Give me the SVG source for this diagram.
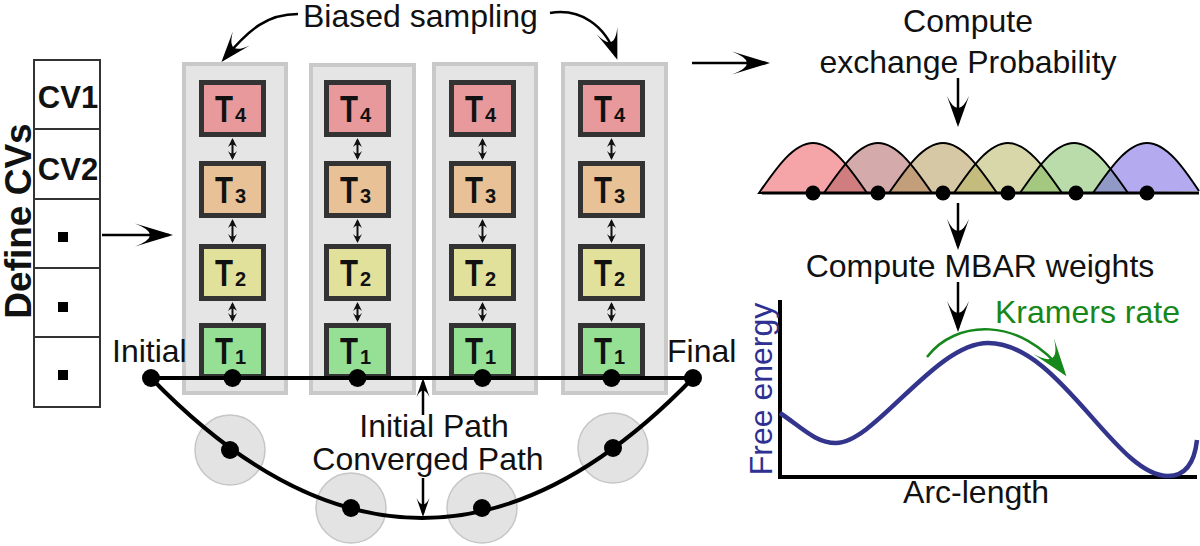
<svg xmlns="http://www.w3.org/2000/svg" xmlns:xlink="http://www.w3.org/1999/xlink" width="1200" height="546" viewBox="0 0 1200 546">
<style>
.t{font-family:"Liberation Sans",Arial,sans-serif;font-size:32px;fill:#111}
.b{font-family:"Liberation Sans",Arial,sans-serif;font-weight:bold;fill:#111}
.panel{fill:#e5e5e5;stroke:#c9c9c9;stroke-width:4}
.box{stroke:#333;stroke-width:5}
.t4{fill:#e8999b}.t3{fill:#e8c197}.t2{fill:#e1e19b}.t1{fill:#95e095}
.cell{fill:#fff;stroke:#333;stroke-width:2}
.ln{fill:none;stroke:#000;stroke-width:2.5}
.path{fill:none;stroke:#000;stroke-width:4}
.halo{fill:#e3e3e3;stroke:#c6c6c6;stroke-width:1.5}
.bell{stroke:none;fill-opacity:0.5}
.bells{fill:none;stroke:#000;stroke-width:2}
</style>
<defs>
<marker id="big" markerUnits="userSpaceOnUse" markerWidth="1" markerHeight="1" refX="0" refY="0" orient="auto" overflow="visible"><path d="M4,0 L-34,-11.5 Q-4,0 -34,11.5 Z" fill="#000"/></marker>
<marker id="med" markerUnits="userSpaceOnUse" markerWidth="1" markerHeight="1" refX="0" refY="0" orient="auto" overflow="visible"><path d="M4,0 L-27,-11 Q-3,0 -27,11 Z" fill="#000"/></marker>
<marker id="sm" markerUnits="userSpaceOnUse" markerWidth="1" markerHeight="1" refX="0" refY="0" orient="auto" overflow="visible"><path d="M4,0 L-15,-6.5 Q-2,0 -15,6.5 Z" fill="#000"/></marker>
<marker id="tiny" markerUnits="userSpaceOnUse" markerWidth="1" markerHeight="1" refX="0" refY="0" orient="auto-start-reverse" overflow="visible"><path d="M2,0 L-7,-4.5 Q-2,0 -7,4.5 Z" fill="#111"/></marker>
<marker id="grn" markerUnits="userSpaceOnUse" markerWidth="1" markerHeight="1" refX="0" refY="0" orient="auto" overflow="visible"><path d="M4,0 L-34,-13 Q-4,0 -34,13 Z" fill="#16871a"/></marker>
<path id="b1" d="M759,193 C775,170 793,143 813,143 C833,143 851,170 867,193 Z"/>
<path id="b2" d="M824,193 C840,170 858,143 878,143 C898,143 916,170 932,193 Z"/>
<path id="b3" d="M889,193 C905,170 923,143 943,143 C963,143 981,170 997,193 Z"/>
<path id="b4" d="M954,193 C970,170 988,143 1008,143 C1028,143 1046,170 1062,193 Z"/>
<path id="b5" d="M1020,193 C1036,170 1054,143 1074,143 C1094,143 1112,170 1128,193 Z"/>
<path id="b6" d="M1093,193 C1109,170 1127,143 1147,143 C1167,143 1185,170 1199,191"/>
</defs>
<rect width="1200" height="546" fill="#fff"/>

<g id="define-cvs">
<text class="b" font-size="37" text-anchor="middle" transform="translate(31,221) rotate(-90)">Define CVs</text>
<rect class="cell" x="34" y="60" width="66" height="69"/>
<rect class="cell" x="34" y="129" width="66" height="70"/>
<rect class="cell" x="34" y="199" width="66" height="69"/>
<rect class="cell" x="34" y="268" width="66" height="69"/>
<rect class="cell" x="34" y="337" width="66" height="70"/>
<text class="b" font-size="31" x="68" y="108" text-anchor="middle">CV1</text>
<text class="b" font-size="31" x="68" y="180" text-anchor="middle">CV2</text>
<rect x="58" y="232" width="10" height="10" fill="#000"/>
<rect x="58" y="302" width="10" height="10" fill="#000"/>
<rect x="58" y="370" width="10" height="10" fill="#000"/>
</g>

<g id="panels">
<rect class="panel" x="184" y="64" width="102" height="329"/>
<rect class="panel" x="311" y="65" width="103" height="328"/>
<rect class="panel" x="434" y="64" width="102" height="329"/>
<rect class="panel" x="563" y="64" width="103" height="329"/>
</g>

<g id="halos">
<circle class="halo" cx="230" cy="450" r="35"/>
<circle class="halo" cx="351" cy="508" r="35"/>
<circle class="halo" cx="482" cy="508" r="35"/>
<circle class="halo" cx="613" cy="448" r="35"/>
</g>

<g id="replica-1">
<rect class="box t4" x="201.5" y="82.5" width="62" height="52"/><text class="b" font-size="36" x="215" y="122" textLength="18" lengthAdjust="spacingAndGlyphs">T</text><text class="b" font-size="20" x="235" y="122">4</text>
<rect class="box t3" x="201.5" y="163.5" width="62" height="52"/><text class="b" font-size="36" x="215" y="203" textLength="18" lengthAdjust="spacingAndGlyphs">T</text><text class="b" font-size="20" x="235" y="203">3</text>
<rect class="box t2" x="201.5" y="246.5" width="62" height="52"/><text class="b" font-size="36" x="215" y="286" textLength="18" lengthAdjust="spacingAndGlyphs">T</text><text class="b" font-size="20" x="235" y="286">2</text>
<rect class="box t1" x="201.5" y="325.5" width="62" height="51"/><text class="b" font-size="36" x="215" y="364" textLength="18" lengthAdjust="spacingAndGlyphs">T</text><text class="b" font-size="20" x="235" y="364">1</text>
</g>
<g id="replica-2">
<rect class="box t4" x="326.5" y="82.5" width="62" height="52"/><text class="b" font-size="36" x="340" y="122" textLength="18" lengthAdjust="spacingAndGlyphs">T</text><text class="b" font-size="20" x="360" y="122">4</text>
<rect class="box t3" x="326.5" y="163.5" width="62" height="52"/><text class="b" font-size="36" x="340" y="203" textLength="18" lengthAdjust="spacingAndGlyphs">T</text><text class="b" font-size="20" x="360" y="203">3</text>
<rect class="box t2" x="326.5" y="246.5" width="62" height="52"/><text class="b" font-size="36" x="340" y="286" textLength="18" lengthAdjust="spacingAndGlyphs">T</text><text class="b" font-size="20" x="360" y="286">2</text>
<rect class="box t1" x="326.5" y="325.5" width="62" height="51"/><text class="b" font-size="36" x="340" y="364" textLength="18" lengthAdjust="spacingAndGlyphs">T</text><text class="b" font-size="20" x="360" y="364">1</text>
</g>
<g id="replica-3">
<rect class="box t4" x="451.5" y="82.5" width="62" height="52"/><text class="b" font-size="36" x="465" y="122" textLength="18" lengthAdjust="spacingAndGlyphs">T</text><text class="b" font-size="20" x="485" y="122">4</text>
<rect class="box t3" x="451.5" y="163.5" width="62" height="52"/><text class="b" font-size="36" x="465" y="203" textLength="18" lengthAdjust="spacingAndGlyphs">T</text><text class="b" font-size="20" x="485" y="203">3</text>
<rect class="box t2" x="451.5" y="246.5" width="62" height="52"/><text class="b" font-size="36" x="465" y="286" textLength="18" lengthAdjust="spacingAndGlyphs">T</text><text class="b" font-size="20" x="485" y="286">2</text>
<rect class="box t1" x="451.5" y="325.5" width="62" height="51"/><text class="b" font-size="36" x="465" y="364" textLength="18" lengthAdjust="spacingAndGlyphs">T</text><text class="b" font-size="20" x="485" y="364">1</text>
</g>
<g id="replica-4">
<rect class="box t4" x="580.5" y="82.5" width="62" height="52"/><text class="b" font-size="36" x="594" y="122" textLength="18" lengthAdjust="spacingAndGlyphs">T</text><text class="b" font-size="20" x="614" y="122">4</text>
<rect class="box t3" x="580.5" y="163.5" width="62" height="52"/><text class="b" font-size="36" x="594" y="203" textLength="18" lengthAdjust="spacingAndGlyphs">T</text><text class="b" font-size="20" x="614" y="203">3</text>
<rect class="box t2" x="580.5" y="246.5" width="62" height="52"/><text class="b" font-size="36" x="594" y="286" textLength="18" lengthAdjust="spacingAndGlyphs">T</text><text class="b" font-size="20" x="614" y="286">2</text>
<rect class="box t1" x="580.5" y="325.5" width="62" height="51"/><text class="b" font-size="36" x="594" y="364" textLength="18" lengthAdjust="spacingAndGlyphs">T</text><text class="b" font-size="20" x="614" y="364">1</text>
</g>

<g id="string-paths">
<line class="path" x1="151" y1="378" x2="693" y2="378"/>
<path class="path" d="M151,378 Q422,658 693,378"/>
<g fill="#000">
<circle cx="151" cy="378" r="9"/><circle cx="693" cy="378" r="9"/>
<circle cx="232.5" cy="378" r="9"/><circle cx="357.5" cy="378" r="9"/><circle cx="482.5" cy="378" r="9"/><circle cx="611.5" cy="378" r="9"/>
<circle cx="230" cy="450" r="9"/><circle cx="351" cy="508" r="9"/><circle cx="482" cy="508" r="9"/><circle cx="613" cy="448" r="9"/>
</g>
<text class="t" font-size="31" x="112" y="362">Initial</text>
<text class="t" font-size="31" x="667" y="362">Final</text>
<text class="t" x="434" y="437" text-anchor="middle">Initial Path</text>
<text class="t" x="428" y="470" text-anchor="middle">Converged Path</text>
</g>

<g id="labels">
<text class="t" font-size="32.5" x="303" y="27">Biased sampling</text>
<text class="t" font-size="32.5" x="968" y="32" text-anchor="middle">Compute</text>
<text class="t" font-size="32.5" x="968" y="73" text-anchor="middle">exchange Probability</text>
<text class="t" x="980" y="277" text-anchor="middle">Compute MBAR weights</text>
</g>

<g id="exchange-distributions">
<g class="bell">
<use xlink:href="#b1" fill="#eb4b51"/>
<use xlink:href="#b2" fill="#a95555"/>
<use xlink:href="#b3" fill="#af914b"/>
<use xlink:href="#b4" fill="#afaf55"/>
<use xlink:href="#b5" fill="#73b955"/>
<use xlink:href="#b6" fill="#6955e1"/>
</g>
<g class="bells">
<use xlink:href="#b1"/><use xlink:href="#b2"/><use xlink:href="#b3"/><use xlink:href="#b4"/><use xlink:href="#b5"/><use xlink:href="#b6"/>
</g>
<line x1="762" y1="193" x2="1199" y2="193" stroke="#000" stroke-width="3"/>
<g fill="#000">
<circle cx="813" cy="193" r="7.5"/><circle cx="878" cy="193" r="7.5"/><circle cx="943" cy="193" r="7.5"/><circle cx="1008" cy="193" r="7.5"/><circle cx="1076" cy="193" r="7.5"/><circle cx="1147" cy="193" r="7.5"/>
</g>
</g>

<g id="free-energy-plot">
<path d="M780,300 V477 H1197" fill="none" stroke="#000" stroke-width="4"/>
<path d="M780,413 C800,426 815,443 836,443 C875,443 935,343 988,343 C1060,343 1115,476 1168,476 C1188,476 1195,458 1197,440" fill="none" stroke="#33358c" stroke-width="4.5"/>
<text class="t" style="fill:#2e3192" text-anchor="middle" transform="translate(772,389) rotate(-90)">Free energy</text>
<text class="t" x="976" y="503" text-anchor="middle">Arc-length</text>
<text class="t" x="995" y="323" style="fill:#16871a">Kramers rate</text>
</g>

<g id="connectors">
<path class="ln" d="M102,235 H169" marker-end="url(#big)"/>
<path class="ln" d="M692,63 H766" marker-end="url(#big)"/>
<path class="ln" stroke-width="3" d="M298,14 C268,14 250,28 224,59" marker-end="url(#med)"/>
<path class="ln" stroke-width="3" d="M550,13 C580,8 605,25 616,56" marker-end="url(#med)"/>
<path class="ln" d="M958,78 V123" marker-end="url(#med)"/>
<path class="ln" d="M958,203 V246" marker-end="url(#med)"/>
<path class="ln" d="M958,282 V328" marker-end="url(#med)"/>
<path class="ln" stroke-width="2" d="M423,415 V382" marker-end="url(#sm)"/>
<path class="ln" stroke-width="2" d="M423,478 V513" marker-end="url(#sm)"/>
<path fill="none" stroke="#16871a" stroke-width="2.5" d="M927,357 C955,320 1020,315 1064,373" marker-end="url(#grn)"/>
<g stroke="#111" stroke-width="2" fill="none">
<path d="M232.5,140 V158" marker-start="url(#tiny)" marker-end="url(#tiny)"/>
<path d="M232.5,221 V241" marker-start="url(#tiny)" marker-end="url(#tiny)"/>
<path d="M232.5,304 V320" marker-start="url(#tiny)" marker-end="url(#tiny)"/>
<path d="M357.5,140 V158" marker-start="url(#tiny)" marker-end="url(#tiny)"/>
<path d="M357.5,221 V241" marker-start="url(#tiny)" marker-end="url(#tiny)"/>
<path d="M357.5,304 V320" marker-start="url(#tiny)" marker-end="url(#tiny)"/>
<path d="M482.5,140 V158" marker-start="url(#tiny)" marker-end="url(#tiny)"/>
<path d="M482.5,221 V241" marker-start="url(#tiny)" marker-end="url(#tiny)"/>
<path d="M482.5,304 V320" marker-start="url(#tiny)" marker-end="url(#tiny)"/>
<path d="M611.5,140 V158" marker-start="url(#tiny)" marker-end="url(#tiny)"/>
<path d="M611.5,221 V241" marker-start="url(#tiny)" marker-end="url(#tiny)"/>
<path d="M611.5,304 V320" marker-start="url(#tiny)" marker-end="url(#tiny)"/>
</g>
</g>
</svg>
